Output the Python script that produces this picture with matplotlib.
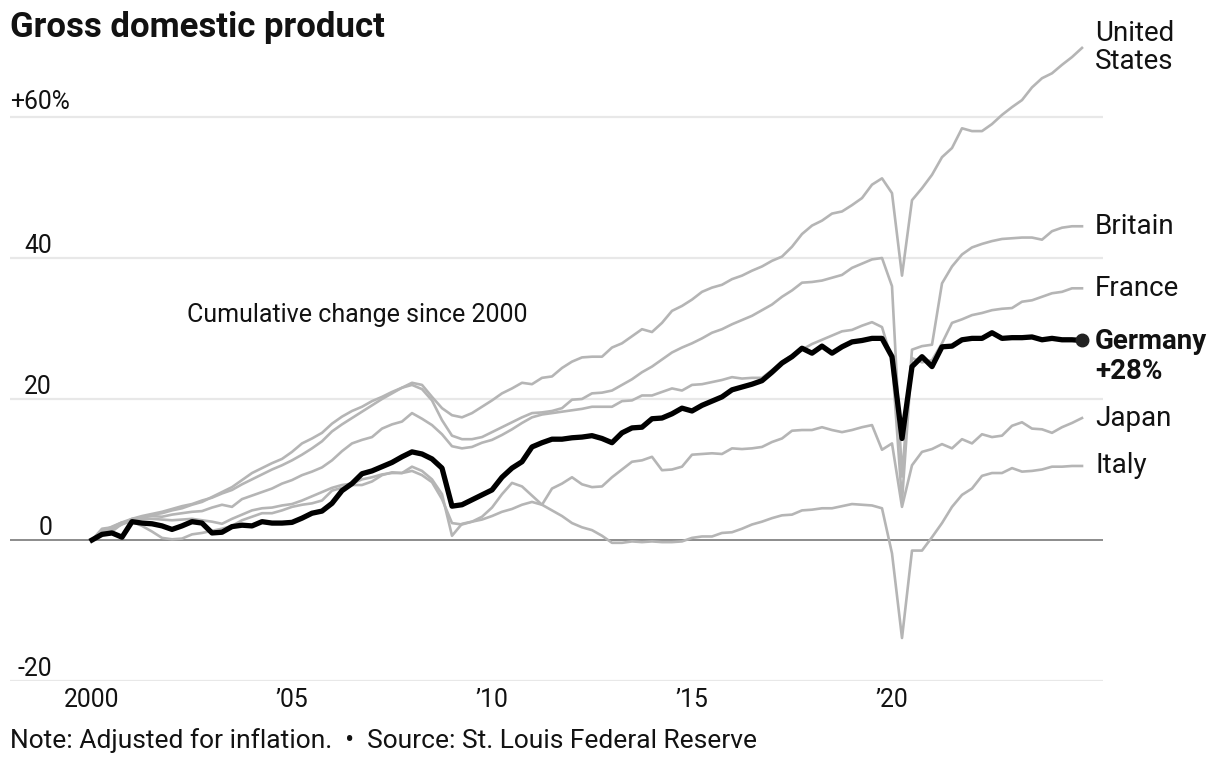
import matplotlib
matplotlib.use("Agg")
import matplotlib.pyplot as plt
import numpy as np
import pandas as pd

plt.rcParams['font.family'] = ['Roboto', 'DejaVu Sans']

# quarterly real GDP, cumulative % change since 2000 Q1
quarters = pd.period_range('2000Q1', '2024Q4', freq='Q')

germany = [0.0, 0.8, 1.0, 0.4, 2.6, 2.4, 2.3, 2.0, 1.5, 2.0,
           2.6, 2.4, 1.0, 1.1, 1.9, 2.1, 2.0, 2.6, 2.4, 2.4,
           2.5, 3.1, 3.8, 4.1, 5.2, 7.0, 8.0, 9.4, 9.8, 10.4,
           11.0, 11.8, 12.5, 12.2, 11.5, 10.2, 4.8, 5.0, 5.7, 6.4,
           7.1, 8.9, 10.2, 11.1, 13.2, 13.8, 14.3, 14.3, 14.5, 14.6,
           14.8, 14.4, 13.8, 15.2, 15.9, 16.0, 17.2, 17.3, 17.9, 18.7,
           18.3, 19.1, 19.7, 20.3, 21.3, 21.7, 22.1, 22.6, 23.8, 25.1,
           26.0, 27.2, 26.5, 27.5, 26.5, 27.4, 28.1, 28.3, 28.6, 28.6,
           26.0, 14.4, 24.6, 26.0, 24.6, 27.4, 27.5, 28.4, 28.6, 28.6,
           29.4, 28.6, 28.7, 28.7, 28.8, 28.4, 28.6, 28.4, 28.4, 28.3]

united_states = [0.0, 1.6, 1.8, 2.5, 2.6, 3.2, 3.6, 3.8, 4.2, 4.5,
                 5.0, 5.4, 6.1, 6.8, 7.5, 8.5, 9.5, 10.2, 10.9, 11.5,
                 12.5, 13.7, 14.4, 15.2, 16.5, 17.5, 18.3, 18.9, 19.7, 20.3,
                 21.0, 21.6, 22.3, 22.0, 20.3, 18.7, 17.7, 17.4, 18.0, 18.9,
                 19.8, 20.8, 21.5, 22.3, 22.1, 23.0, 23.2, 24.4, 25.3, 25.9,
                 26.0, 26.0, 27.3, 27.9, 28.9, 29.9, 29.5, 30.8, 32.5, 33.2,
                 34.1, 35.2, 35.8, 36.2, 37.0, 37.5, 38.2, 38.8, 39.6, 40.2,
                 41.6, 43.4, 44.6, 45.3, 46.3, 46.6, 47.5, 48.5, 50.4, 51.3,
                 49.2, 37.5, 48.2, 49.9, 51.8, 54.3, 55.6, 58.4, 58.0, 58.0,
                 59.0, 60.3, 61.4, 62.4, 64.2, 65.5, 66.2, 67.4, 68.5, 69.8]

britain = [0.0, 1.2, 1.9, 2.5, 3.0, 3.4, 3.7, 4.0, 4.4, 4.8,
           5.1, 5.6, 6.0, 6.6, 7.1, 7.9, 8.6, 9.3, 10.0, 10.6,
           11.3, 12.1, 13.0, 14.0, 15.4, 16.4, 17.3, 18.2, 19.1, 20.0,
           20.8, 21.6, 22.0, 21.4, 19.8, 17.0, 14.8, 14.3, 14.3, 14.6,
           15.3, 16.0, 16.7, 17.4, 18.0, 18.1, 18.3, 18.7, 19.9, 20.0,
           20.8, 20.9, 21.2, 22.0, 22.8, 23.8, 24.6, 25.6, 26.6, 27.3,
           27.9, 28.6, 29.4, 29.9, 30.6, 31.2, 31.8, 32.6, 33.4, 34.5,
           35.4, 36.5, 36.6, 36.8, 37.2, 37.6, 38.6, 39.2, 39.8, 40.0,
           36.0, 9.0, 27.0, 27.5, 27.7, 36.4, 38.8, 40.5, 41.5, 42.0,
           42.4, 42.7, 42.8, 42.9, 42.9, 42.6, 43.8, 44.3, 44.5, 44.5]

france = [0.0, 1.0, 1.6, 2.3, 3.0, 3.2, 3.4, 3.3, 3.6, 3.8,
          4.0, 4.1, 4.6, 5.0, 4.7, 5.8, 6.3, 6.8, 7.3, 8.0,
          8.5, 9.2, 9.7, 10.3, 11.3, 12.6, 13.7, 14.2, 14.6, 15.8,
          16.4, 16.8, 18.0, 17.2, 16.3, 15.0, 13.3, 13.0, 13.2, 13.8,
          14.2, 14.9, 15.7, 16.6, 17.4, 17.8, 18.0, 18.2, 18.4, 18.6,
          18.9, 18.9, 18.9, 19.7, 19.8, 20.5, 20.5, 21.0, 21.5, 21.2,
          22.0, 22.1, 22.4, 22.7, 23.1, 22.9, 23.0, 23.0, 24.1, 25.3,
          26.2, 27.0, 27.8, 28.4, 29.0, 29.6, 29.8, 30.4, 30.9, 30.2,
          25.5, 5.5, 25.8, 25.2, 25.5, 27.9, 30.8, 31.3, 31.9, 32.2,
          32.6, 32.8, 32.9, 33.8, 34.0, 34.5, 35.0, 35.2, 35.7, 35.7]

japan = [0.0, 1.3, 1.2, 2.3, 2.6, 2.0, 1.2, 0.3, 0.1, 0.2,
         0.8, 1.0, 1.3, 1.6, 2.0, 2.8, 3.3, 3.8, 3.8, 4.2,
         4.7, 5.0, 5.2, 5.6, 7.0, 7.4, 7.8, 7.8, 8.3, 9.2,
         9.6, 9.5, 10.4, 9.8, 8.6, 6.5, 0.6, 2.3, 2.6, 3.3,
         4.6, 6.5, 8.1, 7.6, 6.3, 5.0, 7.3, 8.0, 8.9, 7.9,
         7.5, 7.6, 8.9, 10.0, 11.1, 11.3, 11.8, 9.9, 10.0, 10.4,
         12.1, 12.2, 12.3, 12.2, 13.0, 12.9, 13.0, 13.2, 13.9, 14.4,
         15.5, 15.6, 15.6, 16.0, 15.6, 15.3, 15.6, 16.0, 16.3, 12.8,
         13.7, 4.7, 10.6, 12.5, 12.9, 13.6, 13.0, 14.3, 13.7, 15.0,
         14.6, 14.8, 16.2, 16.7, 15.8, 15.7, 15.2, 16.0, 16.6, 17.3]

italy = [0.0, 0.9, 1.6, 2.2, 2.9, 3.0, 3.0, 2.9, 2.8, 2.9,
         3.0, 2.8, 2.6, 2.3, 3.0, 3.6, 4.2, 4.5, 4.6, 4.9,
         5.1, 5.6, 6.2, 6.8, 7.4, 7.8, 8.0, 8.6, 8.9, 9.3,
         9.5, 9.5, 9.8, 9.2, 8.2, 5.8, 2.4, 2.2, 2.6, 2.9,
         3.4, 4.0, 4.4, 5.0, 5.4, 5.0, 4.2, 3.4, 2.4, 1.8,
         1.4, 0.6, -0.4, -0.4, -0.2, -0.3, -0.2, -0.3, -0.3, -0.2,
         0.3, 0.5, 0.5, 1.0, 1.1, 1.6, 2.2, 2.6, 3.1, 3.5,
         3.6, 4.2, 4.3, 4.5, 4.5, 4.8, 5.1, 5.0, 4.9, 4.5,
         -1.9, -13.9, -1.5, -1.5, 0.4, 2.4, 4.7, 6.4, 7.3, 9.1,
         9.5, 9.5, 10.2, 9.7, 9.8, 10.0, 10.4, 10.4, 10.5, 10.5]

others = {
    'United\nStates': united_states,
    'Britain': britain,
    'France': france,
    'Japan': japan,
    'Italy': italy,
}

gridlines = [-20, 20, 40, 60]
ytick_labels = {-20: '-20', 0: '0', 20: '20', 40: '40'}
xticks = [2000, 2005, 2010, 2015, 2020]
xtick_labels = ['2000', '\u201905', '\u201910', '\u201915', '\u201920']

# decimal years for the quarters
x = quarters.year + (quarters.quarter - 1) / 4

text_c = '#121212'
W, H = 1216, 762
fig = plt.figure(figsize=(W / 100, H / 100), dpi=100)
ax = fig.add_axes([10 / W, 81 / H, 1093 / W, (681 - 32.4) / H])
ax.set_xlim(1997.95, 2025.275)
ax.set_ylim(-20, 72)

for g in gridlines:
    ax.axhline(g, color='#e8e8e8', lw=1.6, zorder=0)
ax.axhline(0, color='#8c8c8c', lw=1.4, zorder=1)

for name, vals in others.items():
    ax.plot(x, vals, color='#b5b5b5', lw=1.9, zorder=2, solid_joinstyle='round')
    ax.annotate(name, xy=(x[-1], vals[-1]), xytext=(13, 0), textcoords='offset pixels',
                ha='left', va='center', fontsize=20, color=text_c,
                linespacing=1.05, annotation_clip=False)

ax.plot(x, germany, color='black', lw=3.8, zorder=3, solid_joinstyle='round')
ax.plot(x[-1], germany[-1], 'o', color='#222222', markersize=9, zorder=4, clip_on=False)
ax.annotate('Germany', xy=(x[-1], germany[-1]), xytext=(13, -1), textcoords='offset pixels',
            ha='left', va='center', fontsize=20, weight='bold', color=text_c,
            annotation_clip=False)
ax.annotate('+28%', xy=(x[-1], germany[-1]), xytext=(13, -31), textcoords='offset pixels',
            ha='left', va='center', fontsize=20, weight='bold', color=text_c,
            annotation_clip=False)

ytrans = ax.get_yaxis_transform()
for v, lab in ytick_labels.items():
    ax.text(42 / 1093, v + 0.75, lab, transform=ytrans, ha='right', va='baseline',
            fontsize=17.8, color=text_c)
ax.text(0, 61.1, '+60%', transform=ytrans, ha='left', va='baseline',
        fontsize=17.8, color=text_c)

ax.text(2002.375, 31.9, 'Cumulative change since 2000', ha='left', va='center',
        fontsize=18, color=text_c)

ax.set_xticks(xticks, xtick_labels)
ax.tick_params(axis='x', length=0, pad=5, labelsize=17.8, labelcolor=text_c)
ax.set_yticks([])
for s in ax.spines.values():
    s.set_visible(False)

fig.text(10 / W, 1 - 28 / H, 'Gross domestic product', fontsize=25, weight='bold',
         va='center', ha='left', color=text_c)
fig.text(10 / W, 1 - 741 / H,
         'Note: Adjusted for inflation.  \u2022  Source: St. Louis Federal Reserve',
         fontsize=19, va='center', ha='left', color=text_c)

fig.savefig('out.png', dpi=100, facecolor='white')
